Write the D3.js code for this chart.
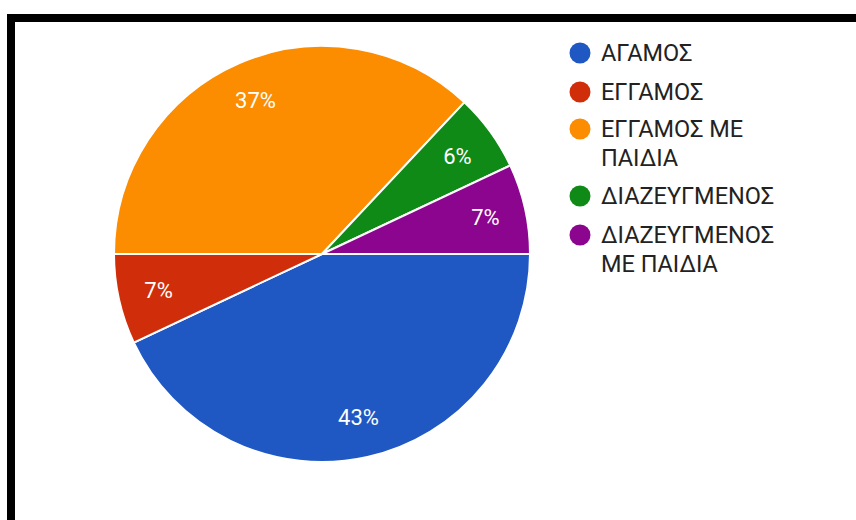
<!DOCTYPE html>
<html>
<head>
<meta charset="utf-8">
<script src="https://cdn.jsdelivr.net/npm/d3@7"></script>
<style>
  html, body { margin: 0; padding: 0; background: #fff; }
  svg { display: block; }
  text { font-family: Roboto, "Noto Sans", sans-serif; }
</style>
</head>
<body>
<svg id="chart" width="856" height="520"></svg>
<script>
// Marital status breakdown (percent of respondents)
const categories = ["ΑΓΑΜΟΣ", "ΕΓΓΑΜΟΣ", "ΕΓΓΑΜΟΣ ΜΕ ΠΑΙΔΙΑ", "ΔΙΑΖΕΥΓΜΕΝΟΣ", "ΔΙΑΖΕΥΓΜΕΝΟΣ ΜΕ ΠΑΙΔΙΑ"];
const values = [43, 7, 37, 6, 7];
const colors = ["#1f57c3", "#d02e0a", "#fc8c00", "#0f8a16", "#8c058f"];
// legend entries, wrapped into lines
const legendLines = [["ΑΓΑΜΟΣ"], ["ΕΓΓΑΜΟΣ"], ["ΕΓΓΑΜΟΣ ΜΕ", "ΠΑΙΔΙΑ"], ["ΔΙΑΖΕΥΓΜΕΝΟΣ"], ["ΔΙΑΖΕΥΓΜΕΝΟΣ", "ΜΕ ΠΑΙΔΙΑ"]];

const svg = d3.select("#chart");

// frame (left and top edges visible)
svg.append("rect")
  .attr("x", 11).attr("y", 18)
  .attr("width", 1000).attr("height", 1000)
  .attr("fill", "none")
  .attr("stroke", "#000")
  .attr("stroke-width", 8);

const cx = 322, cy = 254, r = 208;
const color = d3.scaleOrdinal().domain(categories).range(colors);

const pie = d3.pie()
  .sort(null)
  .value(d => d.value)
  .startAngle(Math.PI / 2)
  .endAngle(Math.PI / 2 + 2 * Math.PI);

const data = categories.map((c, i) => ({ name: c, value: values[i] }));
const arcs = pie(data);
const total = d3.sum(values);

const arc = d3.arc().innerRadius(0).outerRadius(r);
const labelArc = d3.arc().innerRadius(r * 0.805).outerRadius(r * 0.805);

const g = svg.append("g").attr("transform", `translate(${cx},${cy})`);

g.selectAll("path.slice")
  .data(arcs)
  .join("path")
  .attr("class", "slice")
  .attr("d", arc)
  .attr("fill", d => color(d.data.name))
  .attr("stroke", "#fff")
  .attr("stroke-width", 2);

g.selectAll("text.pct")
  .data(arcs)
  .join("text")
  .attr("class", "pct")
  .attr("transform", d => `translate(${labelArc.centroid(d)})`)
  .attr("text-anchor", "middle")
  .attr("dy", "0.36em")
  .attr("fill", "#fff")
  .attr("font-size", 22)
  .text(d => Math.round(d.data.value / total * 100) + "%");

// legend
const legend = svg.append("g").attr("transform", "translate(580,0)");
const rowTops = [53, 92, 129, 196, 235];
const lineStep = 29;

const item = legend.selectAll("g.item")
  .data(categories)
  .join("g")
  .attr("class", "item")
  .attr("transform", (d, i) => `translate(0,${rowTops[i]})`);

item.append("circle")
  .attr("r", 10.5)
  .attr("fill", d => color(d));

item.each(function(d, i) {
  const t = d3.select(this).append("text")
    .attr("x", 21)
    .attr("fill", "#222")
    .attr("font-size", 23.5);
  legendLines[i].forEach((line, j) => {
    t.append("tspan")
      .attr("x", 21)
      .attr("y", j * lineStep)
      .attr("dy", "0.36em")
      .text(line);
  });
});
</script>
</body>
</html>
